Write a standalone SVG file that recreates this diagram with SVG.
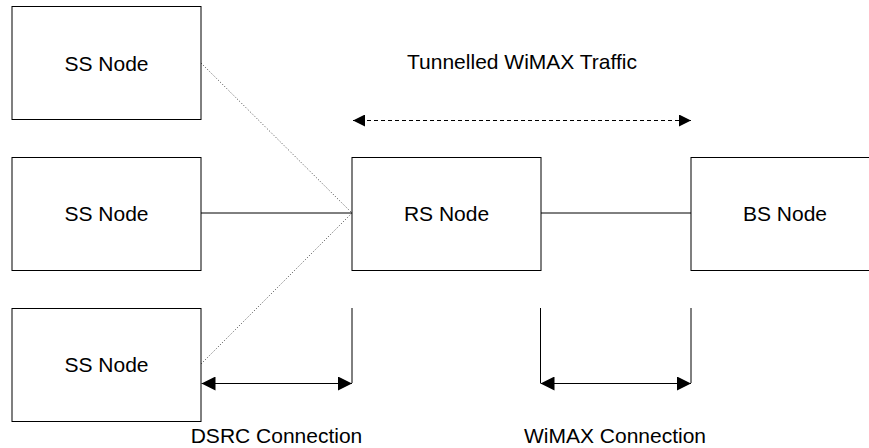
<svg xmlns="http://www.w3.org/2000/svg" width="869" height="448" viewBox="0 0 869 448">
<defs>
<style>
.box{fill:#fff;stroke:#000;stroke-width:1}
.lbl{font-family:"Liberation Sans",Arial,sans-serif;font-size:21px;fill:#000;text-anchor:middle}
.solid{stroke:#000;stroke-width:1;fill:none}
.dot{stroke:#444;stroke-width:1;stroke-dasharray:1 2;fill:none}
.dash{stroke:#000;stroke-width:1;stroke-dasharray:4 3;fill:none}
</style>
<marker id="ah" viewBox="0 0 14 14" refX="14" refY="7" markerWidth="14" markerHeight="14" markerUnits="userSpaceOnUse" orient="auto-start-reverse">
<path d="M0,0 L14,7 L0,14 Z" fill="#000"/>
</marker>
<marker id="ah2" viewBox="0 0 12 12" refX="12" refY="6" markerWidth="12" markerHeight="12" markerUnits="userSpaceOnUse" orient="auto-start-reverse">
<path d="M0,0 L12,6 L0,12 Z" fill="#000"/>
</marker>
</defs>
<g id="connectors">
<line class="dot" x1="201" y1="63" x2="352" y2="213"/>
<line class="solid" x1="201" y1="213" x2="352" y2="213"/>
<line class="dot" x1="201" y1="364" x2="352" y2="213"/>
<line class="solid" x1="541" y1="213" x2="691" y2="213"/>
<line class="dash" x1="353" y1="120.5" x2="691" y2="120.5" marker-start="url(#ah2)" marker-end="url(#ah2)"/>
<line class="solid" x1="352" y1="308" x2="352" y2="383"/>
<line class="solid" x1="540.5" y1="308" x2="540.5" y2="383"/>
<line class="solid" x1="691" y1="308" x2="691" y2="383"/>
<line class="solid" x1="201.5" y1="383.5" x2="352" y2="383.5" marker-start="url(#ah)" marker-end="url(#ah)"/>
<line class="solid" x1="540.5" y1="383.5" x2="691" y2="383.5" marker-start="url(#ah)" marker-end="url(#ah)"/>
</g>
<g id="ss1"><rect class="box" x="12" y="6.5" width="189" height="113"/><text class="lbl" x="106.5" y="70.5">SS Node</text></g>
<g id="ss2"><rect class="box" x="12" y="157.5" width="189" height="113"/><text class="lbl" x="106.5" y="221">SS Node</text></g>
<g id="ss3"><rect class="box" x="12" y="308.5" width="189" height="113"/><text class="lbl" x="106.5" y="372">SS Node</text></g>
<g id="rs"><rect class="box" x="352" y="157.5" width="189" height="113"/><text class="lbl" x="446.5" y="221">RS Node</text></g>
<g id="bs"><rect class="box" x="691" y="157.5" width="189" height="113"/><text class="lbl" x="785" y="221">BS Node</text></g>
<g id="labels">
<text class="lbl" x="522" y="68.5">Tunnelled WiMAX Traffic</text>
<text class="lbl" x="276.5" y="443">DSRC Connection</text>
<text class="lbl" x="615" y="443">WiMAX Connection</text>
</g>
</svg>
